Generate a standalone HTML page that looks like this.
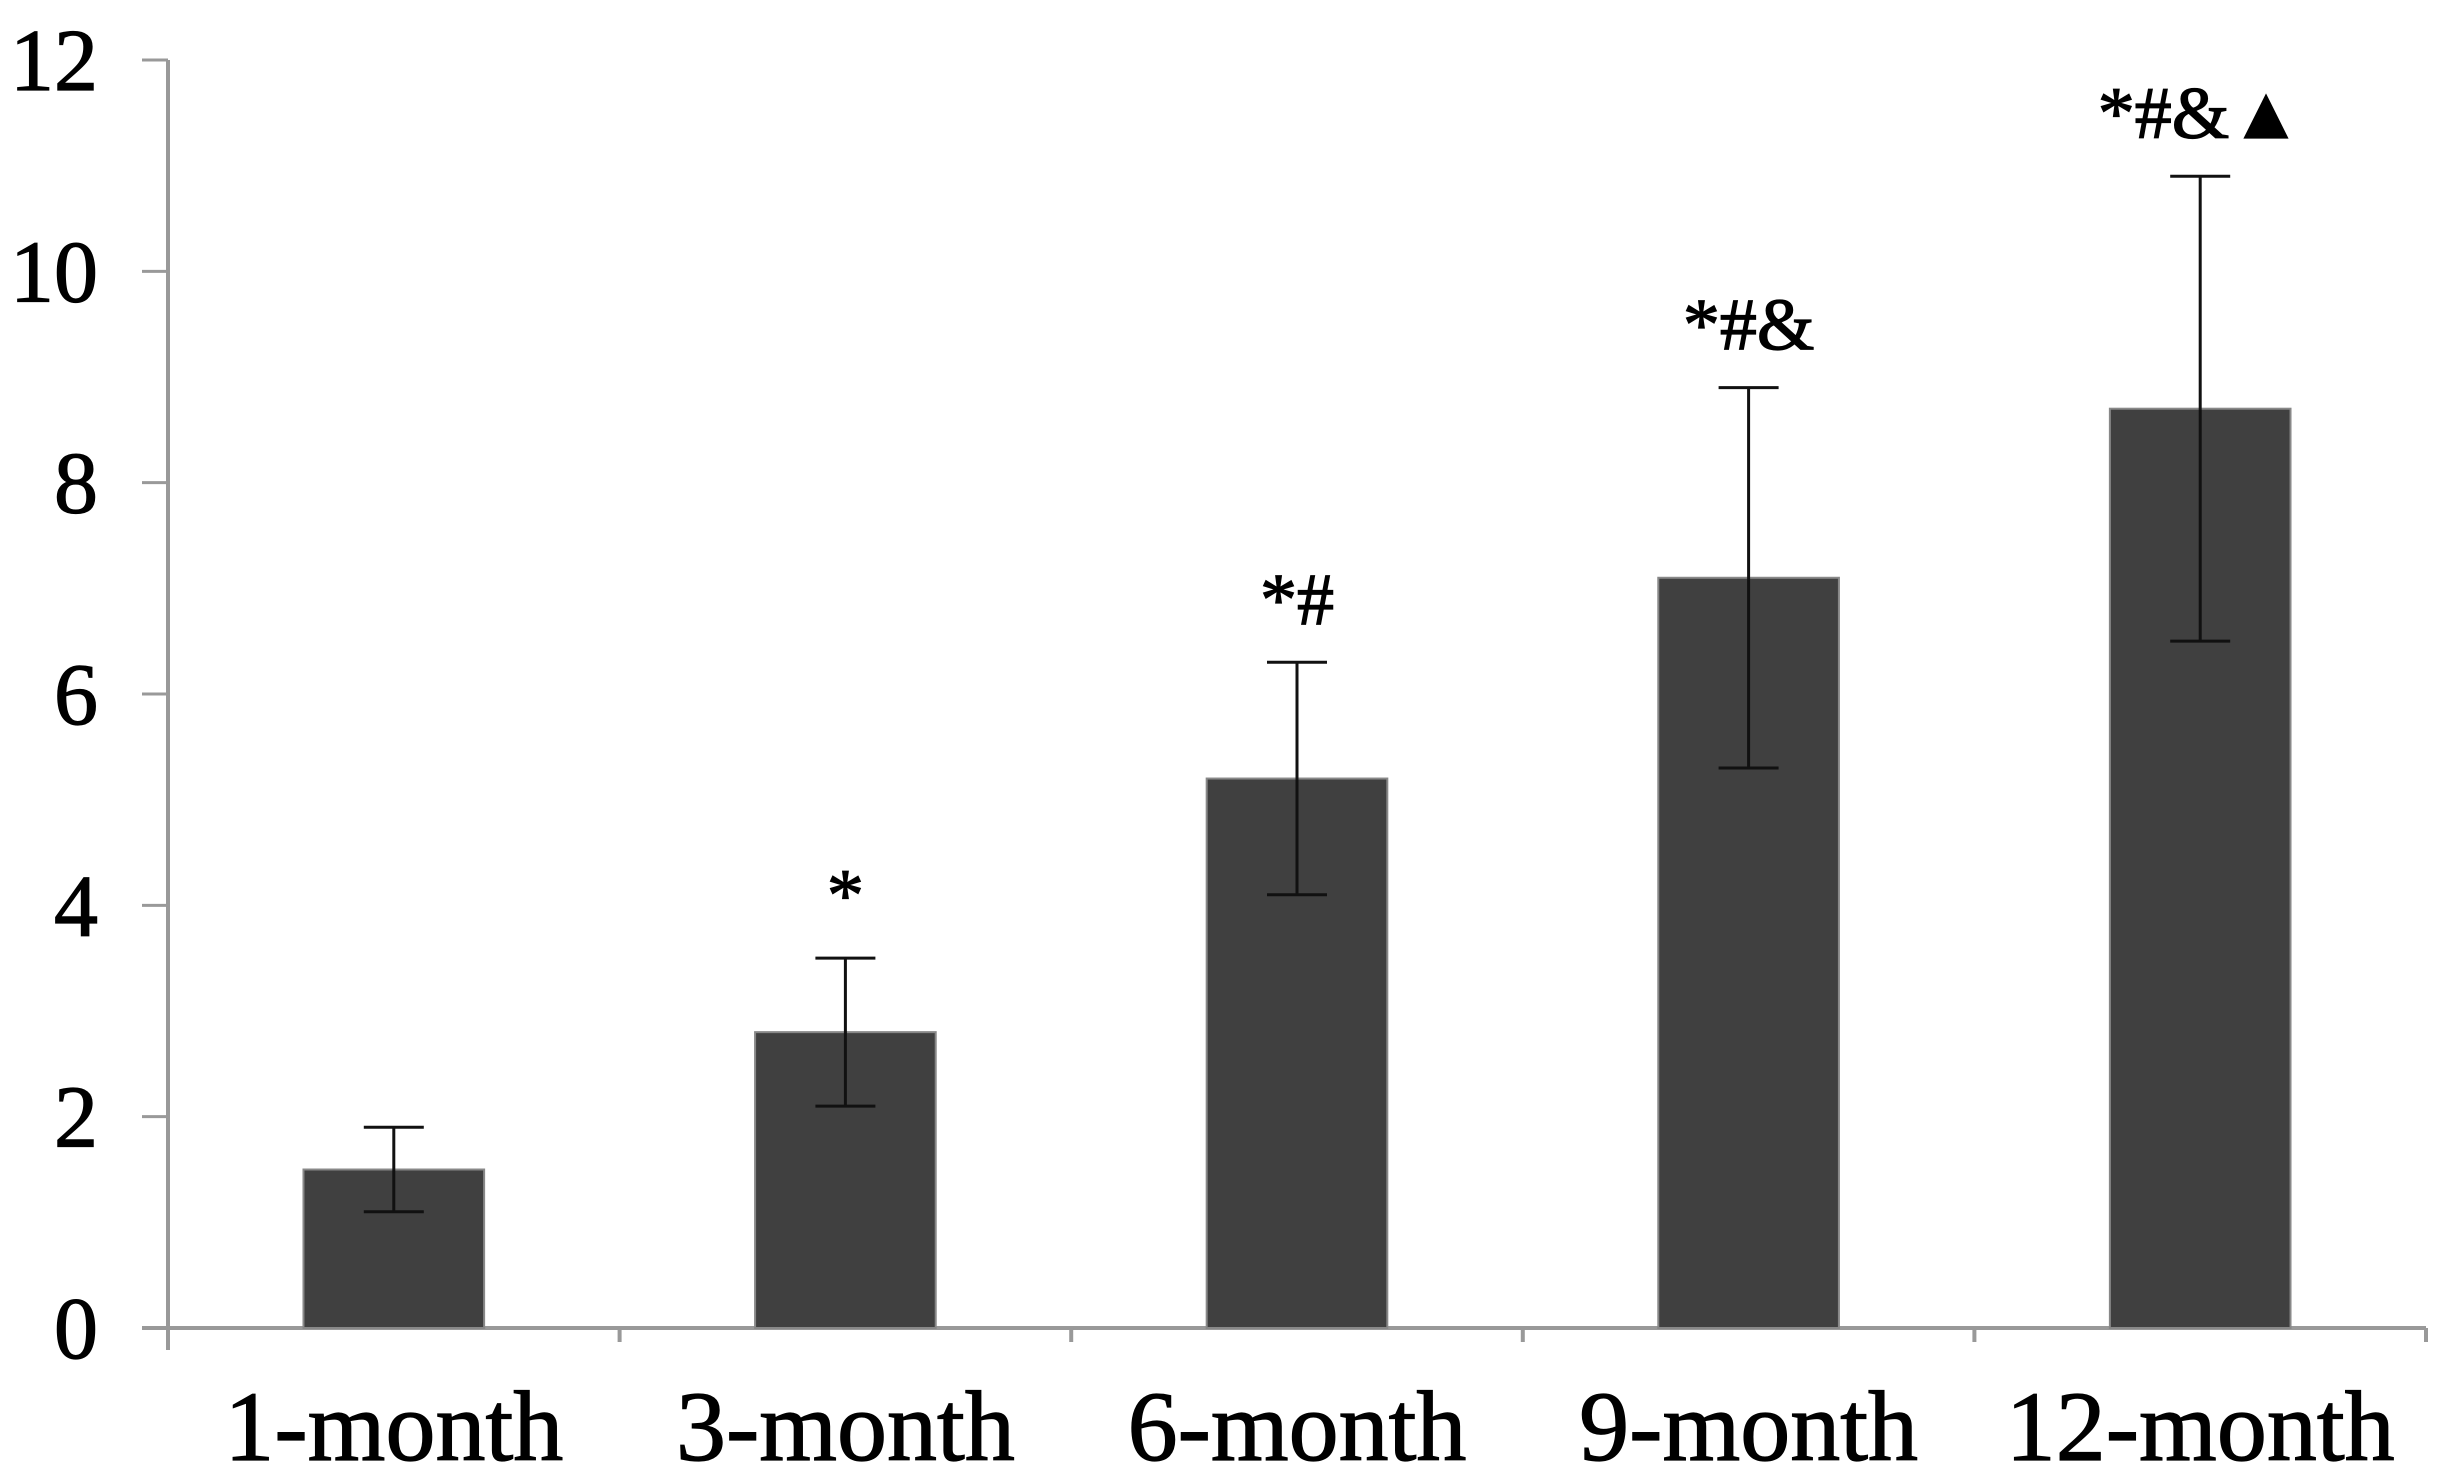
<!DOCTYPE html>
<html><head><meta charset="utf-8"><style>
html,body{margin:0;padding:0;background:#fff}
svg{display:block}
text{font-family:"Liberation Serif",serif;fill:#000;stroke:#000;stroke-width:1.2}
</style></head><body>
<svg id="chart" width="2444" height="1479" viewBox="0 0 2444 1479" xmlns="http://www.w3.org/2000/svg"></svg>
<script>
const categories=["1-month","3-month","6-month","9-month","12-month"];
const values=[1.5,2.8,5.2,7.1,8.7];
const errors=[0.4,0.7,1.1,1.8,2.2];
const annotations=["","*","*#","*#&","*#&\u25B2"];
const yTicks=[0,2,4,6,8,10,12];
const NS="http://www.w3.org/2000/svg";
const svg=document.getElementById('chart');
const x0=168,x1=2426,y0=1328,yTop=60,yMax=12;
const bw=(x1-x0)/categories.length;
function yS(v){return y0-(v/yMax)*(y0-yTop);}
function xC(i){return x0+bw*(i+0.5);}
function el(t,a){const e=document.createElementNS(NS,t);for(const k in a)e.setAttribute(k,a[k]);svg.appendChild(e);return e;}
let ya=el('line',{x1:x0,y1:yTop,x2:x0,y2:y0+22,stroke:'#999','stroke-width':4});


yTicks.forEach(v=>{
  const t=el('line',{x1:x0-26,y1:yS(v),x2:x0,y2:yS(v),stroke:'#999','stroke-width':3});
  
  
  const l=el('text',{x:98,y:yS(v)+30,'text-anchor':'end','font-size':88});
  l.textContent=v;
  
  
});
let xa=el('line',{x1:x0-26,y1:y0,x2:x1,y2:y0,stroke:'#999','stroke-width':4});


for(let i=1;i<=categories.length;i++){
  const t=el('line',{x1:x0+bw*i,y1:y0,x2:x0+bw*i,y2:y0+14,stroke:'#999','stroke-width':4});
  
  
}
categories.forEach((c,i)=>{
  const w=bw*0.4,cx=xC(i);
  const b=el('rect',{x:cx-w/2,y:yS(values[i]),width:w,height:y0-yS(values[i]),fill:'#404040',stroke:'#888','stroke-width':2});
  
  
  const hi=yS(values[i]+errors[i]),lo=yS(values[i]-errors[i]);
  const g=el('path',{d:`M${cx},${hi}V${lo}M${cx-30},${hi}H${cx+30}M${cx-30},${lo}H${cx+30}`,stroke:'#111','stroke-width':3,fill:'none'});
  
  
  const l=el('text',{x:cx,y:1460,'text-anchor':'middle','font-size':100});
  l.textContent=c;
  
  
  if(annotations[i]){
    const a=el('text',{x:cx,y:hi-38,'text-anchor':'middle','font-size':74});
    a.textContent=annotations[i];
    
    
  }
});
</script>
</body></html>
